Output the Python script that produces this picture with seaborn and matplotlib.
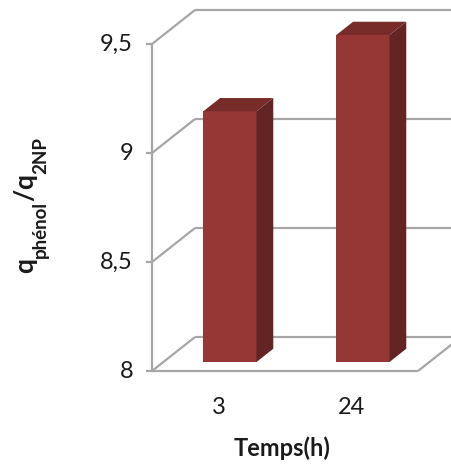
import matplotlib
matplotlib.use("Agg")
import matplotlib.pyplot as plt
from matplotlib.patches import Polygon
from matplotlib.transforms import IdentityTransform
import seaborn as sns
import pandas as pd

# ---- data ----
categories = ["3", "24"]
values = [9.15, 9.5]
ytick_values = [8, 8.5, 9, 9.5]
ytick_labels = ["8", "8,5", "9", "9,5"]
xlabel = "Temps(h)"
ylabel_parts = [("q", False), ("phénol", True), ("/", False), ("q", False), ("2NP", True)]

sns.set_style("white")
plt.rcParams["font.family"] = ["Lato", "DejaVu Sans"]

W, H = 451, 468
fig = plt.figure(figsize=(W / 100, H / 100), dpi=100)
# axes = plane of the bars' front faces
ax = fig.add_axes([163.4 / W, (H - 362) / H, 266 / W, 327 / H])

front_c = "#953735"
side_c = "#632523"
top_c = "#772c2a"
grid_c = "#a6a6a6"
text_c = "#1a1a1a"

df = pd.DataFrame({"Temps": categories, "ratio": values})
sns.barplot(data=df, x="Temps", y="ratio", width=0.4, color=front_c,
            saturation=1, ax=ax, linewidth=0, zorder=3)
ax.set_xlim(-0.5, 1.5)
ax.set_ylim(ytick_values[0], ytick_values[-1])
ax.axis("off")

# 3D geometry in data units
px_x = 266 / 2.0      # pixels per category unit
px_y = 327 / 1.5      # pixels per value unit
Dx, Dy = 43 / px_x, 34 / px_y      # full depth of the floor
f0 = 0.265                         # depth of the bar front plane
fb = 0.39                          # bar depth fraction
fx, fy = -f0 * Dx, -f0 * Dy        # offset to front plane
bx, by = (1 - f0) * Dx, (1 - f0) * Dy  # offset to back plane
sx, sy = fb * Dx, fb * Dy

x0, x1 = -0.5, 1.5
ymin = ytick_values[0]
lk = dict(color=grid_c, lw=1.6, clip_on=False, zorder=1, solid_capstyle="butt")

# front vertical axis
ax.plot([x0 + fx, x0 + fx], [ytick_values[0] + fy, ytick_values[-1] + fy], **lk)
tick_len = 6 / px_x
for v, lab in zip(ytick_values, ytick_labels):
    ax.plot([x0 + fx - tick_len, x0 + fx], [v + fy, v + fy], **lk)
    ax.plot([x0 + fx, x0 + bx], [v + fy, v + by], **lk)
    ax.plot([x0 + bx, x1 + bx + 0.2], [v + by, v + by], **lk)
    ax.text(x0 + fx - 19 / px_x, v + fy, lab, ha="right", va="center",
            fontsize=17, color=text_c)

# floor
ax.plot([x0 + fx, x1 + fx], [ymin + fy, ymin + fy], **lk)
ax.plot([x1 + fx, x1 + bx], [ymin + fy, ymin + by], **lk)

# 3D faces of bars
for p in ax.patches[:]:
    xa = p.get_x()
    w = p.get_width()
    top = p.get_y() + p.get_height()
    side = Polygon([(xa + w, ymin), (xa + w + sx, ymin + sy),
                    (xa + w + sx, top + sy), (xa + w, top)],
                   closed=True, facecolor=side_c, edgecolor="none",
                   clip_on=False, zorder=3)
    topf = Polygon([(xa, top), (xa + w, top), (xa + w + sx, top + sy),
                    (xa + sx, top + sy)],
                   closed=True, facecolor=top_c, edgecolor="none",
                   clip_on=False, zorder=3)
    ax.add_patch(side)
    ax.add_patch(topf)

# category labels on the front plane
for i, c in enumerate(categories):
    ax.text(i + fx, ymin - 45 / px_y, c, ha="center", va="center",
            fontsize=17, color=text_c)

fig.text(282.5 / W, 1 - 448 / H, xlabel, ha="center", va="center",
         fontsize=17, fontweight="bold", color=text_c)

# rotated y label with manual subscripts
renderer = fig.canvas.get_renderer()
x_base = 33.0
y_cur = H - 273.0
for s, is_sub in ylabel_parts:
    size = 13.5 if is_sub else 19
    xb = x_base + (13.0 if is_sub else 0.0)
    t = fig.text(xb, y_cur, s, rotation=90, rotation_mode="anchor",
                 ha="left", va="baseline", fontsize=size, fontweight="bold",
                 color=text_c, transform=IdentityTransform())
    bb = t.get_window_extent(renderer)
    y_cur += bb.height

fig.savefig("out.png", dpi=100)
